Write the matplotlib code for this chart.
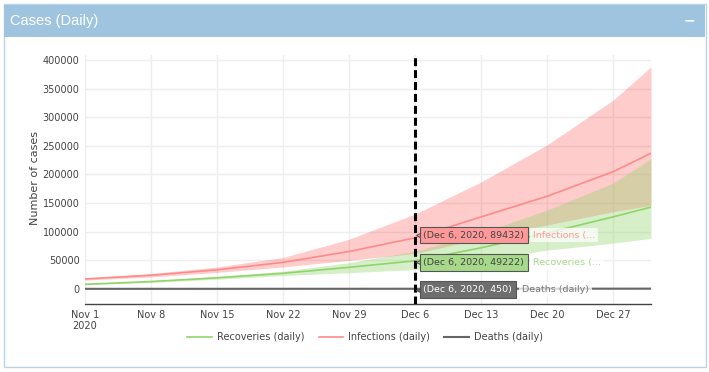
import matplotlib
matplotlib.use('Agg')
import matplotlib.pyplot as plt
import numpy as np
from matplotlib.patches import Rectangle
from matplotlib.transforms import offset_copy

# values (weekly points + end of range)
dates = np.array(['2020-11-01', '2020-11-08', '2020-11-15', '2020-11-22', '2020-11-29',
                  '2020-12-06', '2020-12-13', '2020-12-20', '2020-12-27', '2020-12-31'],
                 dtype='datetime64[D]')

infections = [17500, 24000, 33500, 46500, 65500, 89432, 126000, 162000, 205000, 237000]
infections_hi = [19500, 27000, 38500, 55000, 87000, 131000, 187000, 252000, 330000, 388000]
infections_lo = [15500, 21000, 29000, 38500, 50000, 62000, 88000, 112000, 135000, 146000]

recoveries = [8200, 13000, 19500, 27400, 37900, 49222, 72000, 98000, 126000, 143000]
recoveries_hi = [9000, 14500, 22000, 31000, 46000, 66000, 98000, 138000, 185000, 228000]
recoveries_lo = [7400, 11500, 17000, 23500, 28500, 34000, 50000, 68000, 80000, 88500]

deaths = [300, 330, 360, 390, 420, 450, 490, 540, 600, 650]
deaths_hi = [350, 390, 430, 470, 510, 550, 610, 680, 760, 830]
deaths_lo = [260, 280, 300, 320, 340, 360, 390, 420, 460, 500]

tick_dates = dates[:-1]
tick_labels = ['Nov 1\n2020', 'Nov 8', 'Nov 15', 'Nov 22', 'Nov 29',
               'Dec 6', 'Dec 13', 'Dec 20', 'Dec 27']
y_ticks = [0, 50000, 100000, 150000, 200000, 250000, 300000, 350000, 400000]

hover_date = np.datetime64('2020-12-06')
hover_vals = [89432, 49222, 450]
hover_names = ['Infections (...', 'Recoveries (...', 'Deaths (daily)']

red = '#ff8a8a'
green = '#90d46a'
grey = '#666666'

W, H = 709, 372
def fx(px):
    return px / W
def fy(py):
    return 1 - py / H

fig = plt.figure(figsize=(W / 100, H / 100), dpi=100)

# panel frame + header
fig.add_artist(Rectangle((fx(3.5), fy(366.5)), 702 / W, 363 / H, fill=False,
                         ec='#b9d3e8', lw=1, transform=fig.transFigure))
fig.add_artist(Rectangle((fx(4), fy(37)), 701 / W, 32 / H, fc='#9fc4e0', ec='none',
                         transform=fig.transFigure))
fig.text(fx(10), fy(21), 'Cases (Daily)', color='white', fontsize=10.5,
         family='Liberation Sans', va='center', ha='left')
fig.text(fx(689), fy(20), '\u2212', color='white', fontsize=10, fontweight='bold',
         va='center', ha='center')

ax = fig.add_axes([fx(85), fy(304), 566 / W, 249 / H])

ax.fill_between(dates, infections_lo, infections_hi, color=(1, 0, 0, 0.2), lw=0)
ax.fill_between(dates, recoveries_lo, recoveries_hi, color=(144 / 255, 212 / 255, 106 / 255, 0.37), lw=0)
ax.fill_between(dates, deaths_lo, deaths_hi, color=(0.4, 0.4, 0.4, 0.3), lw=0)

ax.plot(dates, recoveries, color=green, lw=1.2, label='Recoveries (daily)')
ax.plot(dates, infections, color=red, lw=1.2, label='Infections (daily)')
ax.plot(dates, deaths, color=grey, lw=1.5, label='Deaths (daily)')

ax.set_xlim(dates[0], dates[-1])
ax.set_ylim(-26200, 408700)
ax.set_xticks(tick_dates)
ax.set_xticklabels(tick_labels)
ax.set_yticks(y_ticks)
ax.set_yticklabels([str(v) for v in y_ticks])
ax.grid(color='#eeeeee', lw=1)
ax.set_axisbelow(True)
ax.tick_params(length=0, labelsize=7, colors='#444444')
ax.tick_params(axis='y', pad=4)
ax.tick_params(axis='x', pad=4)
for s in ['top', 'right', 'left']:
    ax.spines[s].set_visible(False)
ax.spines['bottom'].set_color('#444444')
ax.spines['bottom'].set_linewidth(1)

fig.text(fx(35), fy(178), 'Number of cases', rotation=90, fontsize=8,
         color='#444444', va='center', ha='center')

# "today" marker
ax.axvline(hover_date, color='black', lw=2.2, linestyle=(0, (2.6, 1.3)), zorder=4)

# hover labels
box_fc = ['#ff9999', '#a6d98a', '#6e6e6e']
box_tc = ['#444444', '#444444', 'white']
name_c = ['#ff9a9a', '#a6d98a', '#777777']
dys = [2.0, -1.2, -0.6]
name_dx = [85.0, 85.0, 77.0]
for val, fc, tc, nm, nc, dy, ndx in zip(hover_vals, box_fc, box_tc, hover_names, name_c, dys, name_dx):
    tr = offset_copy(ax.transData, fig=fig, x=3.4, y=dy, units='points')
    ax.plot([hover_date], [val], marker='<', ms=6, color=fc, mec='#555555', mew=0.8,
            transform=tr, zorder=5, clip_on=False)
    ax.annotate(nm, xy=(hover_date, val), xytext=(ndx, dy), textcoords='offset points',
                ha='left', va='center', fontsize=6.8, color=nc,
                bbox=dict(boxstyle='square,pad=0.3', fc=(1, 1, 1, 0.75), ec='none'), zorder=5.5)
    ax.annotate('(Dec 6, 2020, %d)' % val, xy=(hover_date, val), xytext=(5.8, dy),
                textcoords='offset points', ha='left', va='center', fontsize=6.8, color=tc,
                bbox=dict(boxstyle='square,pad=0.38', fc=fc, ec='#555555', lw=0.8), zorder=6)

leg = fig.legend(loc='center', bbox_to_anchor=(fx(365), fy(337)), ncol=3, frameon=False,
                 fontsize=7, handlelength=2.5, columnspacing=1.5, handletextpad=0.5)
for t in leg.get_texts():
    t.set_color('#444444')

fig.savefig('out.png', dpi=100)
